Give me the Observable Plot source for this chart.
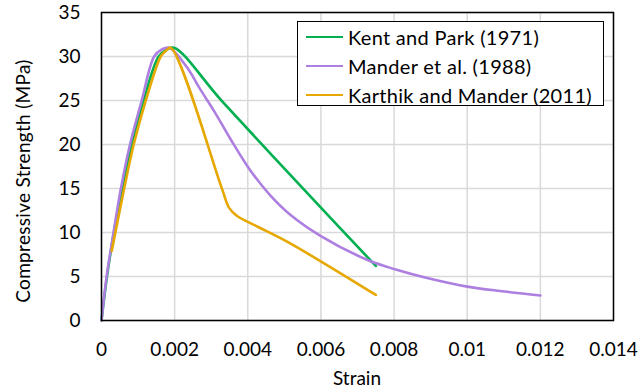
<!DOCTYPE html>
<html><head><meta charset="utf-8">
<script src="https://cdn.jsdelivr.net/npm/d3@7"></script>
<script src="https://cdn.jsdelivr.net/npm/@observablehq/plot@0.6"></script>
<style>
html,body{margin:0;padding:0;background:#fff;}
#wrap{position:relative;width:642px;height:389px;font-family:Lato,sans-serif;color:#000;}
#legend{position:absolute;left:297px;top:21px;width:307px;height:85px;border:1.5px solid #000;background:#fff;box-sizing:border-box;}
.row{position:absolute;left:8px;height:29px;display:flex;align-items:center;font-size:20px;letter-spacing:0.3px;white-space:nowrap;}
.sw{width:37px;height:0;border-top:2.5px solid;margin-right:5px;}
.title{position:absolute;font-size:19px;white-space:nowrap;transform:translate(-50%,-50%);}
#ytitle{transform:translate(-50%,-50%) rotate(-90deg);letter-spacing:0.3px;}
</style></head><body><div id="wrap"></div>
<script>
const seriesNames = ["Kent and Park (1971)", "Mander et al. (1988)", "Karthik and Mander (2011)"];
const seriesColors = ["#00b050", "#ad7fe0", "#e6a800"];

const kentStrain  = [0, 0.00015, 0.00034, 0.00057, 0.00083, 0.00115, 0.00156, 0.00175, 0.00198, 0.0033, 0.00598, 0.0075];
const kentStress  = [0, 5, 10, 15, 20, 25, 30, 30.7, 31, 24.9, 12.9, 6.2];

const manderStrain = [0, 0.00014, 0.00033, 0.00053, 0.00078, 0.0011, 0.00144, 0.00165, 0.00185, 0.00235, 0.00271, 0.00308, 0.00353, 0.00408, 0.00462, 0.00517, 0.006, 0.00726, 0.008, 0.00908, 0.01, 0.0109, 0.012];
const manderStress = [0, 5, 10, 15, 20, 25, 30, 30.8, 31, 28.7, 26.2, 23.8, 20.6, 17, 14.2, 12.0, 9.6, 6.9, 5.85, 4.65, 3.85, 3.35, 2.85];

const karthikStrain = [0.00028, 0.00062, 0.00088, 0.00121, 0.00162, 0.00175, 0.00189, 0.0033, 0.00349, 0.0037, 0.0043, 0.0051, 0.0075];
const karthikStress = [7.9, 15, 20, 25, 30, 30.6, 31, 14.9, 12.8, 11.9, 10.6, 8.9, 2.9];

const xTicks = [0, 0.002, 0.004, 0.006, 0.008, 0.01, 0.012, 0.014];
const xTickLabels = ["0", "0.002", "0.004", "0.006", "0.008", "0.01", "0.012", "0.014"];
const yTicks = [0, 5, 10, 15, 20, 25, 30, 35];
const xTitle = "Strain";
const yTitle = "Compressive Strength (MPa)";

const rows = [];
[[kentStrain, kentStress], [manderStrain, manderStress], [karthikStrain, karthikStress]].forEach(([xs, ys], i) => {
  xs.forEach((x, j) => rows.push({series: seriesNames[i], strain: x, stress: ys[j]}));
});

const chart = Plot.plot({
  width: 642, height: 389,
  marginLeft: 101, marginRight: 29, marginTop: 12, marginBottom: 69,
  style: {fontFamily: "Lato, sans-serif", fontSize: "19px", color: "#000", background: "#fff"},
  x: {domain: [0, 0.014]},
  y: {domain: [0, 35]},
  color: {domain: seriesNames, range: seriesColors},
  marks: [
    Plot.gridX(xTicks, {stroke: "#d9d9d9", strokeOpacity: 1, strokeWidth: 1.5}),
    Plot.gridY(yTicks, {stroke: "#d9d9d9", strokeOpacity: 1, strokeWidth: 1.5}),
    Plot.axisX(xTicks, {tickSize: 0, tickPadding: 22, tickFormat: (d, i) => xTickLabels[i], label: null, fontSize: 19}),
    Plot.axisY(yTicks, {tickSize: 0, tickPadding: 21, label: null, fontSize: 19}),
    Plot.line(rows, {x: "strain", y: "stress", z: "series", stroke: "series", curve: "catmull-rom", strokeWidth: 2.6}),
    Plot.frame({stroke: "#000", strokeWidth: 1.5})
  ]
});

const wrap = document.getElementById("wrap");
wrap.appendChild(chart);

const xt = document.createElement("div");
xt.className = "title"; xt.textContent = xTitle;
xt.style.left = "357px"; xt.style.top = "377px";
wrap.appendChild(xt);
const yt = document.createElement("div");
yt.className = "title"; yt.id = "ytitle"; yt.textContent = yTitle;
yt.style.left = "22px"; yt.style.top = "181px";
wrap.appendChild(yt);

const legend = document.createElement("div");
legend.id = "legend";
seriesNames.forEach((name, i) => {
  const row = document.createElement("div");
  row.className = "row";
  row.style.top = (i * 29) + "px";
  const sw = document.createElement("span");
  sw.className = "sw";
  sw.style.borderTopColor = seriesColors[i];
  const t = document.createElement("span");
  t.textContent = name;
  row.appendChild(sw); row.appendChild(t);
  legend.appendChild(row);
});
wrap.appendChild(legend);
</script>
</body></html>
